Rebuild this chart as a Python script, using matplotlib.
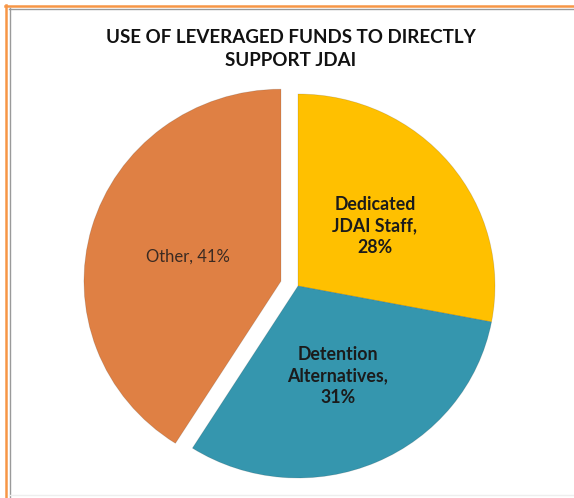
import matplotlib
matplotlib.use("Agg")
import matplotlib.pyplot as plt
from matplotlib.lines import Line2D

# Data
categories = ["Dedicated\nJDAI Staff", "Detention\nAlternatives", "Other"]
values = [28, 31, 41]
colors = ["#FFC000", "#3596AE", "#DF8044"]
explode = [0.0, 0.0, 0.09]
title = "USE OF LEVERAGED FUNDS TO DIRECTLY\nSUPPORT JDAI"

W, H = 574, 498
fig = plt.figure(figsize=(W / 100, H / 100), dpi=100)
fig.patch.set_facecolor("white")

# pie geometry (pixels, top-origin)
cx, cy = 298, 286
rx, ry = 197, 192
lim = 1.15
ax = fig.add_axes([(cx - rx * lim) / W, 1 - (cy + ry * lim) / H,
                   2 * rx * lim / W, 2 * ry * lim / H])
wedges, _ = ax.pie(values, colors=colors, explode=explode, startangle=90,
                   counterclock=False, radius=1.0,
                   wedgeprops=dict(linewidth=0.6, edgecolor="#00000022"))
ax.set_aspect("auto")
ax.set_xlim(-lim, lim)
ax.set_ylim(-lim, lim)
ax.axis("off")

font = ["Lato", "DejaVu Sans"]

def px(x, y):
    return x / W, 1 - y / H

# Slice labels
lbl_yellow = f"{categories[0]},\n{values[0]}%"
lbl_teal = f"{categories[1]},\n{values[1]}%"
lbl_other = f"{categories[2]}, {values[2]}%"
fig.text(*px(375, 226), lbl_yellow, ha="center", va="center", fontsize=12.8,
         fontweight="bold", color="#1b1b1b", family=font, linespacing=1.3)
fig.text(*px(338, 376), lbl_teal, ha="center", va="center", fontsize=12.8,
         fontweight="bold", color="#1b1b1b", family=font, linespacing=1.3)
fig.text(*px(188, 257), lbl_other, ha="center", va="center", fontsize=12,
         color="#3a2a22", family=font)

# Title
fig.text(*px(291, 49), title, ha="center", va="center", fontsize=13.5,
         fontweight="bold", color="#111111", family=font, linespacing=1.45)

# Border lines
def hline(y, x0, x1, c, lw):
    fig.add_artist(Line2D([x0 / W, x1 / W], [1 - y / H, 1 - y / H],
                          color=c, lw=lw, transform=fig.transFigure))

def vline(x, y0, y1, c, lw):
    fig.add_artist(Line2D([x / W, x / W], [1 - y0 / H, 1 - y1 / H],
                          color=c, lw=lw, transform=fig.transFigure))

hline(6, 5, W, "#F79646", 1.8)
vline(6, 5, H, "#F79646", 1.8)
hline(9.5, 8.5, W, "#9a9a9a", 1.0)
vline(9.5, 8.5, H, "#9a9a9a", 1.0)
hline(495, 9, W, "#eeeeee", 1.0)

fig.savefig("out.png", dpi=100, facecolor="white")
